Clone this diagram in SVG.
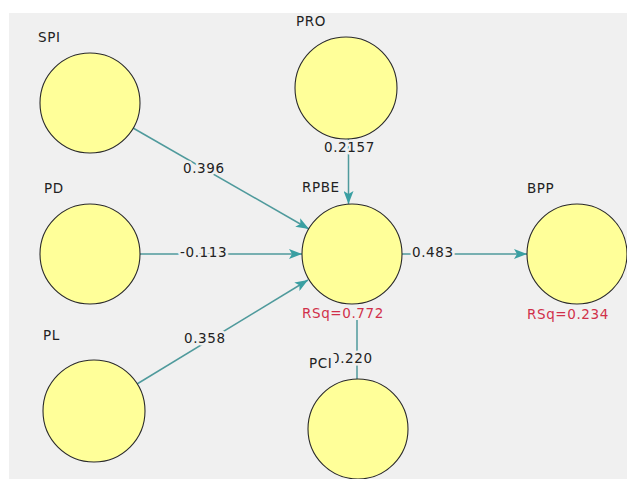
<svg xmlns="http://www.w3.org/2000/svg" width="627" height="479" viewBox="0 0 627 479">
<style>
.bg{fill:#f0f0f0}
.node circle{fill:#ffff99;stroke:#2a2a2a;stroke-width:1.1}
.lbl{font-family:"DejaVu Sans",Verdana,sans-serif;font-size:13.5px;fill:#222;letter-spacing:0.6px}
.val{font-family:"DejaVu Sans",Verdana,sans-serif;font-size:13.5px;fill:#222;letter-spacing:0.6px;paint-order:stroke;stroke:#f0f0f0;stroke-width:5px;stroke-linejoin:round}
.rsq{font-family:"DejaVu Sans",Verdana,sans-serif;font-size:13.5px;fill:#d0304a;letter-spacing:0.6px}
.edge{stroke:#4f9a9c;stroke-width:1.5;fill:none}
</style>
<defs>
<marker id="ah" markerUnits="userSpaceOnUse" markerWidth="14" markerHeight="10" refX="13" refY="5" orient="auto">
<path d="M0,0 L13,5 L0,10 L3,5 z" fill="#3a9fa2"/>
</marker>
</defs>
<rect x="0" y="0" width="627" height="479" fill="#ffffff"/>
<rect class="bg" x="9" y="13" width="618" height="466"/>
<g id="connectors">
<line class="edge" x1="133" y1="128" x2="309" y2="229" marker-end="url(#ah)"/>
<line class="edge" x1="140" y1="254" x2="302" y2="254" marker-end="url(#ah)"/>
<line class="edge" x1="137" y1="384" x2="308" y2="280" marker-end="url(#ah)"/>
<line class="edge" x1="348.5" y1="139" x2="348.5" y2="204" marker-end="url(#ah)"/>
<line class="edge" x1="402" y1="254" x2="527" y2="254" marker-end="url(#ah)"/>
<line class="edge" x1="357" y1="320" x2="357" y2="379"/>
<text class="val" x="183" y="173">0.396</text>
<text class="val" x="180" y="257">-0.113</text>
<text class="val" x="184" y="343">0.358</text>
<text class="val" x="324" y="152">0.2157</text>
<text class="val" x="412" y="257">0.483</text>
<text class="val" x="331" y="363">0.220</text>
</g>
<g id="SPI" class="node"><circle cx="90" cy="103" r="50"/><text class="lbl" x="38" y="42">SPI</text></g>
<g id="PD" class="node"><circle cx="90" cy="254" r="50"/><text class="lbl" x="44" y="193">PD</text></g>
<g id="PL" class="node"><circle cx="94" cy="411" r="51"/><text class="lbl" x="43" y="340">PL</text></g>
<g id="PRO" class="node"><circle cx="346" cy="88" r="51"/><text class="lbl" x="296" y="26">PRO</text></g>
<g id="RPBE" class="node"><circle cx="352" cy="254" r="50"/><text class="lbl" x="302" y="192">RPBE</text><text class="rsq" x="302" y="318">RSq=0.772</text></g>
<g id="BPP" class="node"><circle cx="577" cy="254" r="50"/><text class="lbl" x="527" y="193">BPP</text><text class="rsq" x="527" y="319">RSq=0.234</text></g>
<g id="PCI" class="node"><circle cx="358" cy="429" r="50"/><rect x="307" y="354" width="28" height="17" fill="#f0f0f0"/><text class="lbl" x="309" y="368">PCI</text></g>
</svg>
